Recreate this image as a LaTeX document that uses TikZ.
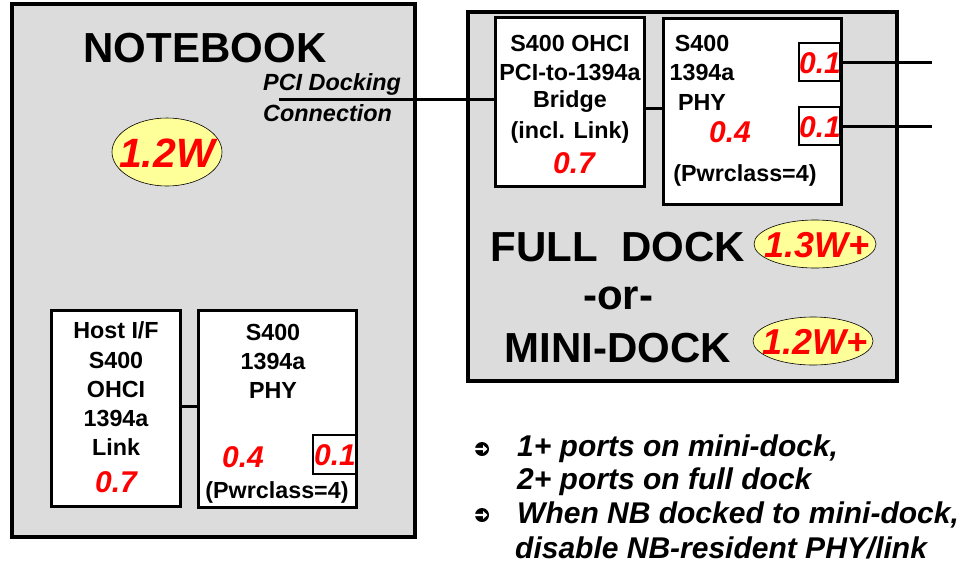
\documentclass[tikz,border=0pt]{standalone}
\usepackage{fontspec}
\setmainfont{Liberation Sans}
\usetikzlibrary{shapes.geometric}
\definecolor{boxgray}{HTML}{DCDCDC}
\definecolor{ellyellow}{HTML}{FFFF99}
\definecolor{numred}{HTML}{FF0000}
\tikzset{
  bigbox/.style={draw=black, fill=boxgray, line width=4pt, inner sep=0pt, outer sep=0pt},
  chipbox/.style={draw=black, fill=white, line width=3pt, inner sep=0pt, outer sep=0pt},
  portbox/.style={draw=black, fill=white, line width=2.5pt, inner sep=0pt, outer sep=0pt},
  wire/.style={line width=3pt, draw=black},
  pw/.style={ellipse, draw=black, line width=0.6pt, fill=ellyellow, inner sep=0pt},
  lbl/.style={inner sep=0pt, font=\fontsize{23.3}{26}\selectfont\bfseries},
  num/.style={inner sep=0pt, text=numred, font=\fontsize{30}{32}\selectfont\bfseries\itshape},
  big/.style={inner sep=0pt, font=\fontsize{42}{44}\selectfont\bfseries},
  note/.style={inner sep=0pt, anchor=west, font=\fontsize{30}{32}\selectfont\bfseries\itshape},
  bulletdot/.style={circle, fill=black, minimum size=14pt, inner sep=0pt}
}
\begin{document}
\begin{tikzpicture}[x=1pt,y=-1pt]
\useasboundingbox (0,0) rectangle (964,571);
% big boxes
\node[bigbox, minimum width=403pt, minimum height=533pt] (nb) at (213.5,270.5) {};
\node[bigbox, minimum width=429.5pt, minimum height=369pt] (dock) at (682.25,196) {};
% dock chips
\node[chipbox, minimum width=149pt, minimum height=169pt] (bridge) at (570,102) {};
\node[chipbox, minimum width=178pt, minimum height=186pt] (dphy) at (752.5,111.5) {};
\node[portbox, minimum width=41pt, minimum height=38pt] (p1) at (819.5,62) {};
\node[portbox, minimum width=41pt, minimum height=38pt] (p2) at (819.5,126) {};
\coordinate (p1end) at (932,62);
\coordinate (p2end) at (932,126);
\coordinate (pcistart) at (279,99.5);
\draw[wire] (pcistart) -- (bridge.west |- pcistart);
\draw[wire] (bridge.east |- 0,108) -- (dphy.west |- 0,108);
\draw[wire] (p1.east) -- (p1end);
\draw[wire] (p2.east) -- (p2end);
% notebook chips
\node[chipbox, minimum width=129pt, minimum height=196pt] (host) at (116,408.5) {};
\node[chipbox, minimum width=158pt, minimum height=197pt] (nphy) at (277.5,409) {};
\node[portbox, minimum width=43pt, minimum height=39pt] (np) at (334.5,454.5) {};
\draw[wire] (host.east |- 0,406.5) -- (nphy.west |- 0,406.5);
% notebook texts
\node[big] (nbt) at (205,48) {NOTEBOOK};
\node[pw, minimum width=110pt, minimum height=68pt] (nbw) at (167,152) {};
\node[num, font=\fontsize{41}{44}\selectfont\bfseries\itshape] (nbwt) at (167,153) {1.2W};
\node[note, font=\fontsize{23.4}{26}\selectfont\bfseries\itshape] (pci1) at (263,84) {PCI Docking};
\node[note, font=\fontsize{23.4}{26}\selectfont\bfseries\itshape] (pci2) at (263,113) {Connection};
% host text
\node[lbl] (h1) at (116,330) {Host I/F};
\node[lbl] (h2) at (116,360) {S400};
\node[lbl] (h3) at (116,389) {OHCI};
\node[lbl] (h4) at (116,418) {1394a};
\node[lbl] (h5) at (116,447) {Link};
\node[num] (h6) at (116,482) {0.7};
% nb phy text
\node[lbl] (n1) at (273,332) {S400};
\node[lbl] (n2) at (273,361) {1394a};
\node[lbl] (n3) at (273,390) {PHY};
\node[num] (n4) at (243,457) {0.4};
\node[num] (n5) at (335,455) {0.1};
\node[lbl] (n6) at (277,492) {(Pwrclass=4)};
% bridge text
\node[lbl] (b1) at (570,43) {S400 OHCI};
\node[lbl] (b2) at (570,72) {PCI-to-1394a};
\node[lbl] (b3) at (570,102) {Bridge};
\node[lbl] (b4) at (570,132) {(incl. Link)};
\node[num] (b5) at (574,163) {0.7};
% dock phy text
\node[lbl] (d1) at (702,43) {S400};
\node[lbl] (d2) at (702,72) {1394a};
\node[lbl] (d3) at (702,102) {PHY};
\node[num] (d4) at (730,132) {0.4};
\node[num] (d5) at (820,63) {0.1};
\node[num] (d6) at (820,127) {0.1};
\node[lbl] (d7) at (745,175) {(Pwrclass=4)};
% dock labels
\node[big] (fd) at (618,247) {FULL\ \ DOCK};
\node[big] (or) at (618,298) {-or-};
\node[big] (md) at (618,348) {MINI-DOCK};
\node[pw, minimum width=122pt, minimum height=48pt] (fdw) at (815,244) {};
\node[num, font=\fontsize{36}{38}\selectfont\bfseries\itshape] (fdwt) at (817,245) {1.3W+};
\node[pw, minimum width=120pt, minimum height=48pt] (mdw) at (813,341) {};
\node[num, font=\fontsize{36}{38}\selectfont\bfseries\itshape] (mdwt) at (815,342) {1.2W+};
% bullets
\node[bulletdot] (bl1) at (482,449) {};
\node[bulletdot] (bl2) at (482,515) {};
\foreach \b in {bl1,bl2}{
  \fill[white] ([xshift=-7pt,yshift=1.2pt]\b.center) -- ([xshift=1pt,yshift=1.2pt]\b.center)
    -- ([xshift=1pt,yshift=4pt]\b.center) -- ([xshift=5.5pt]\b.center)
    -- ([xshift=1pt,yshift=-4pt]\b.center) -- ([xshift=1pt,yshift=-1.2pt]\b.center)
    -- ([xshift=-7pt,yshift=-1.2pt]\b.center) -- cycle;
}
\node[note] (t1) at (517,449) {1+ ports on mini-dock,};
\node[note] (t2) at (517,482) {2+ ports on full dock};
\node[note] (t3) at (517,515) {When NB docked to mini-dock,};
\node[note] (t4) at (515,548) {disable NB-resident PHY/link};
\end{tikzpicture}
\end{document}
